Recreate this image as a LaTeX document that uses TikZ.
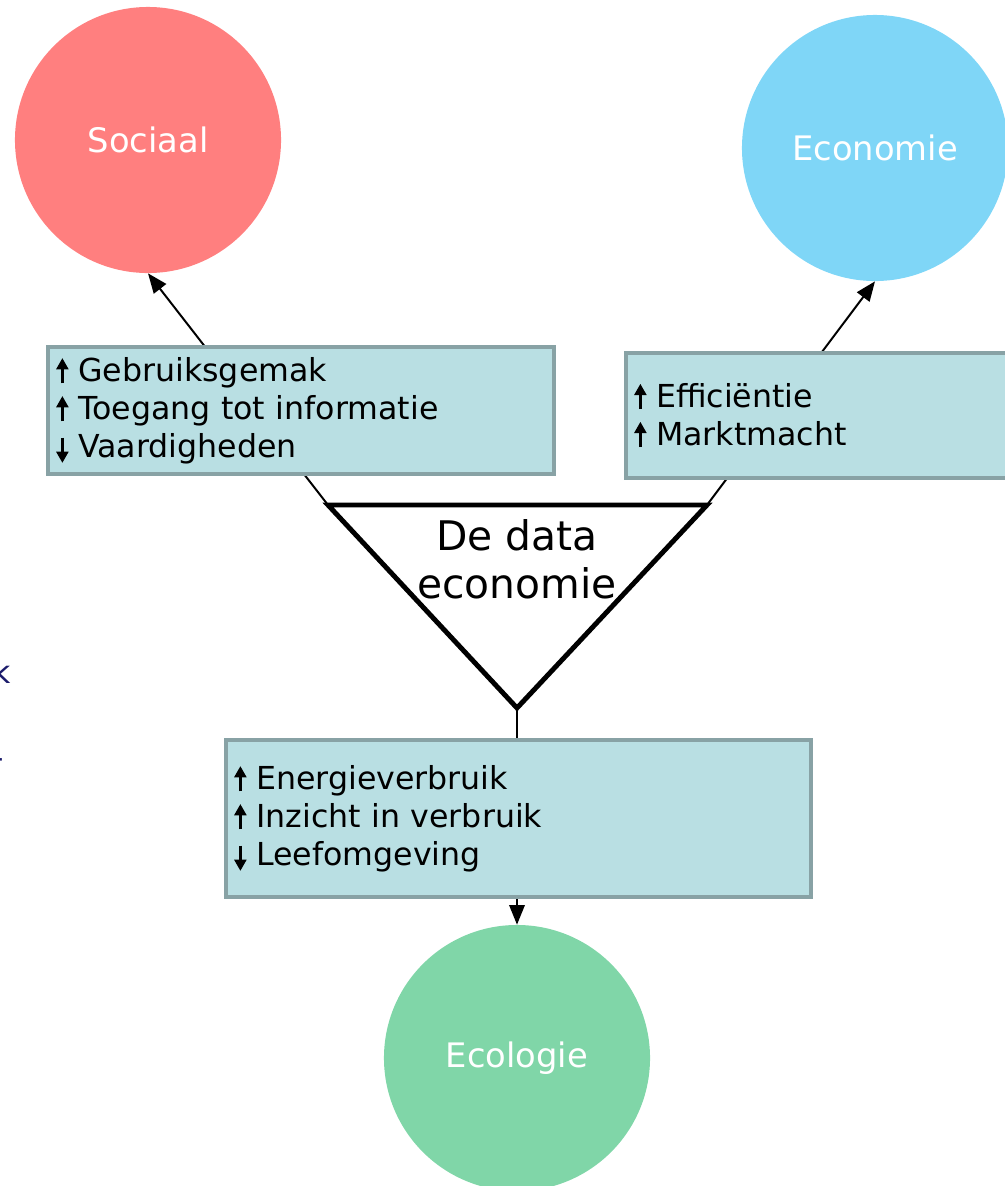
\documentclass[tikz,border=0pt]{standalone}
\usepackage{fontspec}
\setmainfont{DejaVu Sans}
\usetikzlibrary{arrows.meta}
\definecolor{socred}{HTML}{FF7F7F}
\definecolor{ecoblue}{HTML}{7FD6F7}
\definecolor{ecolgreen}{HTML}{80D6A8}
\definecolor{boxfill}{HTML}{B9DFE3}
\definecolor{boxline}{HTML}{88A2A5}
\definecolor{navy}{HTML}{1B1B6B}
\tikzset{
  pillar/.style={circle, minimum size=6.65cm, inner sep=0pt, text=white, font=\fontsize{24}{29}\selectfont},
  effectbox/.style={rectangle, draw=boxline, fill=boxfill, line width=2.8pt, inner xsep=2pt, inner ysep=0pt, align=left, anchor=north west, font=\fontsize{22.5}{27}\selectfont},
  link/.style={line width=1.4pt, -{Triangle[length=14pt,width=11pt]}},
  trend/.style={line width=1.8pt, -{Triangle[length=8pt,width=8.5pt]}},
  fragment/.style={text=navy, inner sep=0pt, anchor=base east, font=\fontsize{22.5}{27}\selectfont}
}
\newcommand{\goesup}{\hspace{4pt}\tikz[baseline=1.5pt]\draw[trend] (0,0) -- (0,18pt);\hspace{7pt}}
\newcommand{\goesdown}{\hspace{4pt}\tikz[baseline=4pt]\draw[trend] (0,18pt) -- (0,0);\hspace{7pt}}
\begin{document}
\begin{tikzpicture}[x=0.025cm, y=-0.025cm]
		\useasboundingbox (0,0) rectangle (1005,1186);
		% the three pillars
		\node[pillar, fill=socred] (sociaal) at (148,140) {Sociaal};
		\node[pillar, fill=ecoblue] (economie) at (875,148) {Economie};
		\node[pillar, fill=ecolgreen] (ecologie) at (517,1058) {Ecologie};

		\coordinate (triL) at (328,505);
		\coordinate (triR) at (707,505);
		\coordinate (triB) at (517,708);

		\draw[link] (triL) -- (sociaal.south);
		\draw[link] (triR) -- (economie.south);
		\draw[link] (triB) -- (ecologie.north);

		% effects
		\node[effectbox, text width=12.5cm, minimum height=3.175cm] (socbox) at (46,345)
		{\goesup Gebruiksgemak\\\goesup Toegang tot informatie\\\goesdown Vaardigheden};
		\node[effectbox, text width=9.625cm, minimum height=3.125cm] (ecobox) at (624,351)
		{\goesup Efficiëntie\\\goesup Marktmacht};
		\node[effectbox, text width=14.475cm, minimum height=3.925cm] (ecolbox) at (224,738)
		{\goesup Energieverbruik\\\goesup Inzicht in verbruik\\\goesdown Leefomgeving};

		\draw[line width=3.5pt] (triL) -- (triR) -- (triB) -- cycle;
		\node[align=center, font=\fontsize{29}{34}\selectfont] (dataeco) at (517,559) {De data\\economie};

		\node[fragment] (fragk) at (11,683) {k};
		\node[fragment] (fragdash) at (4,768) {-};
	\end{tikzpicture}
\end{document}
